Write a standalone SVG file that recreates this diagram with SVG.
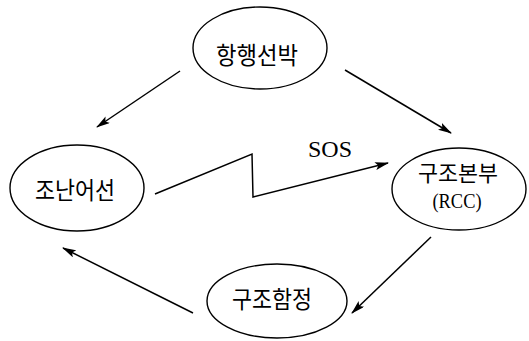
<svg xmlns="http://www.w3.org/2000/svg" width="529" height="341" viewBox="0 0 529 341">
<style>
.node ellipse{fill:#fff;stroke:#000;stroke-width:1.4}
.ko{font-family:"Noto Sans CJK KR","Noto Sans",sans-serif;font-size:24px;fill:#000;text-anchor:middle}
.lat{font-family:"Liberation Serif","Times New Roman",serif;fill:#000;text-anchor:middle}
.conn{fill:none;stroke:#000;stroke-width:1.5;marker-end:url(#ah)}
</style>
<defs>
<marker id="ah" markerUnits="userSpaceOnUse" markerWidth="14" markerHeight="8" refX="13" refY="4" orient="auto">
<path d="M0,0 L14,4 L0,8 L3,4 z" fill="#000"/>
</marker>
</defs>
<rect width="529" height="341" fill="#fff"/>
<g id="connectors">
<line class="conn" x1="180" y1="71" x2="97" y2="127"/>
<line class="conn" x1="345" y1="70" x2="451" y2="133"/>
<polyline class="conn" points="155,194 252,154 253,197 388,163"/>
<line class="conn" x1="431" y1="237" x2="352" y2="313"/>
<line class="conn" x1="193" y1="313" x2="63" y2="248"/>
</g>
<g id="node-top" class="node">
<ellipse cx="260" cy="48" rx="67" ry="41"/>
<text class="ko" x="257" y="64" textLength="82" lengthAdjust="spacingAndGlyphs">항행선박</text>
</g>
<g id="node-left" class="node">
<ellipse cx="77" cy="188" rx="67" ry="43"/>
<text class="ko" x="75" y="199" textLength="80" lengthAdjust="spacingAndGlyphs">조난어선</text>
</g>
<g id="node-right" class="node">
<ellipse cx="459" cy="189" rx="67" ry="41"/>
<text class="ko" x="458" y="181" style="font-size:22px" textLength="80" lengthAdjust="spacingAndGlyphs">구조본부</text>
<text class="lat" x="457" y="208" font-size="20" textLength="49" lengthAdjust="spacingAndGlyphs">(RCC)</text>
</g>
<g id="node-bottom" class="node">
<ellipse cx="277" cy="301" rx="70" ry="37"/>
<text class="ko" x="272" y="308" textLength="80" lengthAdjust="spacingAndGlyphs">구조함정</text>
</g>
<text class="lat" x="330" y="157" font-size="24">SOS</text>
</svg>
